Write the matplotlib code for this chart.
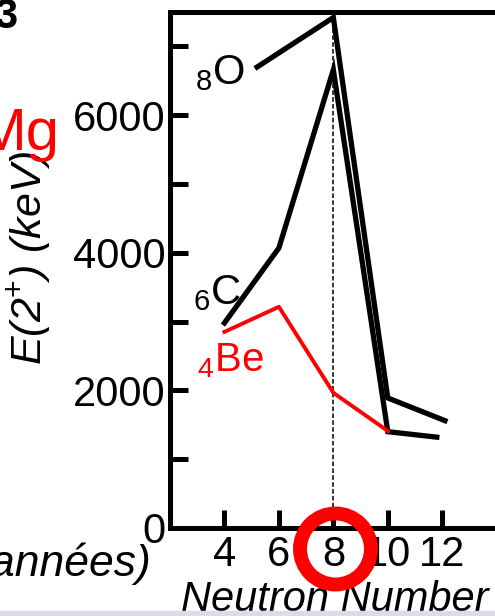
import matplotlib
matplotlib.use("Agg")
import matplotlib.pyplot as plt
from matplotlib.patches import Ellipse, Rectangle
from matplotlib.ticker import MultipleLocator

plt.rcParams['font.family'] = ['Liberation Sans', 'DejaVu Sans']
plt.rcParams['mathtext.fontset'] = 'custom'
plt.rcParams['mathtext.rm'] = 'Liberation Sans'
plt.rcParams['mathtext.it'] = 'Liberation Sans:italic'

# E(2+) energies (keV)
n_oxygen = [5.2, 8, 10, 12.1]
e_oxygen = [6700, 7420, 1890, 1560]

n_carbon = [4, 6, 8, 10, 11.8]
e_carbon = [2980, 4070, 6660, 1400, 1320]

n_beryllium = [4, 6, 8, 10]
e_beryllium = [2850, 3215, 1965, 1410]

x_ticks = [4, 6, 8, 10, 12]
y_ticks = [0, 2000, 4000, 6000]

fig = plt.figure(figsize=(4.95, 6.16), dpi=100)
ax = fig.add_axes([0.3434, 0.1429, 0.715, 0.8376])

ax.plot(n_oxygen, e_oxygen, color="black", lw=3.8, solid_joinstyle="miter")
ax.plot(n_carbon, e_carbon, color="black", lw=3.8, solid_joinstyle="miter")
ax.plot(n_beryllium, e_beryllium, color="red", lw=2.8)
ax.vlines(8, 0, 7400, colors="black", linestyles=(0, (3, 1.5)), lw=1.1, zorder=1)

ax.set_xlim(2, 15)
ax.set_ylim(0, 7500)
ax.set_xticks(x_ticks)
ax.set_yticks(y_ticks)
ax.yaxis.set_minor_locator(MultipleLocator(1000))

for s in ax.spines.values():
    s.set_linewidth(3.6)
ax.tick_params(which="both", direction="in", width=3.6, length=13,
               labelsize=30)
ax.tick_params(axis="y", pad=3)
ax.tick_params(axis="x", pad=5)

ax.set_ylabel("E(2$^{+}$) (keV)", fontsize=31, style="italic")
ax.yaxis.set_label_coords(-0.33, 0.523)
ax.set_xlabel("Neutron Number", fontsize=30, style="italic")
ax.xaxis.set_label_coords(0.466, -0.1)

# element labels
ax.text(2.93, 6453, r"$_{8}$O", fontsize=30, ha="left", va="baseline")
ax.text(2.86, 3256, r"$_{6}$C", fontsize=30, ha="left", va="baseline")
ax.text(3.0, 2282, r"$_{4}$Be", fontsize=29, ha="left", va="baseline",
        color="red")

# slide elements around the chart
fig.text(0.12, 0.757, "Mg", fontsize=43, color="red", ha="right",
         va="baseline")
fig.text(0.305, 0.065, "années)", fontsize=32, style="italic", ha="right",
         va="baseline")
fig.text(-0.012, 0.955, "3", fontsize=30, weight="bold", ha="left",
         va="baseline")
fig.add_artist(Ellipse((335.5 / 495, 1 - 549 / 616), 71 / 495, 71 / 616,
                       transform=fig.transFigure, fill=False,
                       edgecolor="red", lw=10))
fig.add_artist(Rectangle((0, 0), 1, 5 / 616, transform=fig.transFigure,
                         color="#dcdce8"))

fig.savefig("out.png", dpi=100)
